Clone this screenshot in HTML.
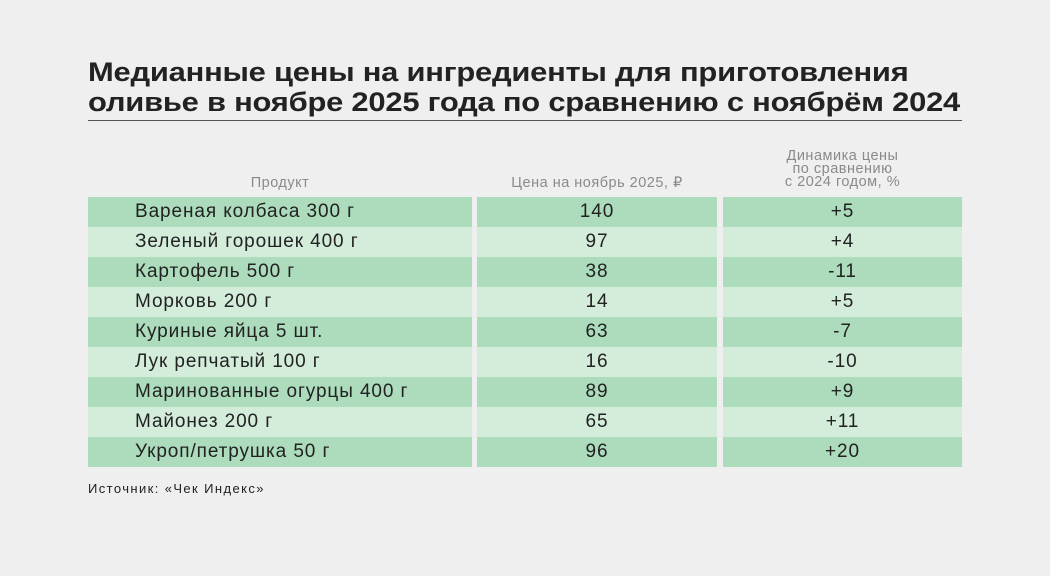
<!DOCTYPE html>
<html><head><meta charset="utf-8"><style>
body{margin:0;width:1050px;height:576px;background:#efefef;font-family:"Liberation Sans",sans-serif;position:relative;overflow:hidden}
.t{position:absolute;left:88px;top:57px;font-size:27px;font-weight:bold;color:#222;line-height:30px;letter-spacing:-0.2px;transform:scaleX(1.145);transform-origin:left top;white-space:nowrap}
.rule{position:absolute;left:88px;top:120px;width:874px;height:1px;background:#555}
.h{position:absolute;color:#8a8a8a;font-size:14.5px;text-align:center;line-height:13px;letter-spacing:0.5px}
.r{position:absolute;height:30px;line-height:30px;font-size:19px;color:#222;letter-spacing:0.9px}
.c{position:absolute;top:0;height:30px}
.src{position:absolute;left:88px;top:481px;font-size:13px;color:#222;letter-spacing:1.4px}
</style></head><body>
<div class="t">Медианные цены на ингредиенты для приготовления<br>оливье в ноябре 2025 года по сравнению с ноябрём 2024</div>
<div class="rule"></div>
<div class="h" style="left:88px;width:384px;top:177px">Продукт</div>
<div class="h" style="left:477px;width:240px;top:177px">Цена на ноябрь 2025, ₽</div>
<div class="h" style="left:723px;width:239px;top:150px">Динамика цены<br>по сравнению<br>с 2024 годом, %</div>
<div id="rows"></div>
<div class="src">Источник: «Чек Индекс»</div>
<script>
var d=[["Вареная колбаса 300 г","140","+5"],["Зеленый горошек 400 г","97","+4"],["Картофель 500 г","38","-11"],["Морковь 200 г","14","+5"],["Куриные яйца 5 шт.","63","-7"],["Лук репчатый 100 г","16","-10"],["Маринованные огурцы 400 г","89","+9"],["Майонез 200 г","65","+11"],["Укроп/петрушка 50 г","96","+20"]];
var h="";d.forEach(function(r,i){var bg=i%2?"#d4eddb":"#acdcbc";var y=197+i*30;
h+='<div class="r" style="top:'+y+'px;left:0;width:1050px">'+
'<div class="c" style="left:88px;width:384px;background:'+bg+'"><span style="padding-left:47px">'+r[0]+'</span></div>'+
'<div class="c" style="left:477px;width:240px;background:'+bg+';text-align:center">'+r[1]+'</div>'+
'<div class="c" style="left:723px;width:239px;background:'+bg+';text-align:center">'+r[2]+'</div></div>';});
document.getElementById("rows").innerHTML=h;
</script>
</body></html>
